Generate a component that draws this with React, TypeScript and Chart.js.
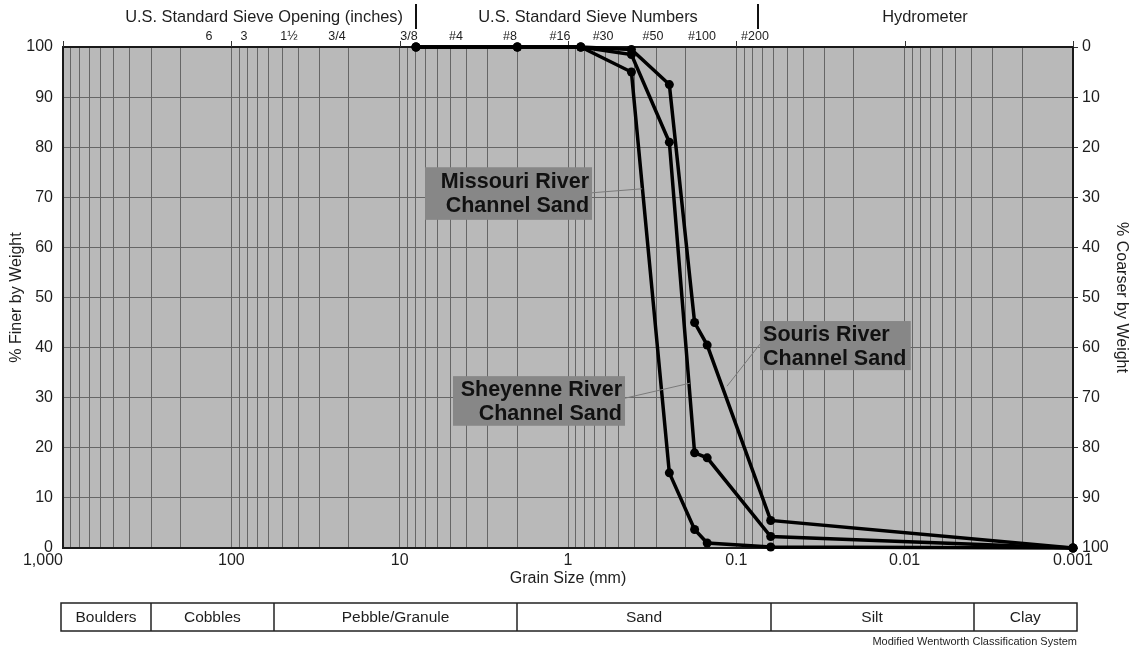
import React, { useEffect, useRef } from "react";
import { Chart, registerables } from "chart.js";
Chart.register(...registerables);

// ---- data ----
const grainSizes = [8, 2, 0.84, 0.42, 0.25, 0.177, 0.149, 0.0625, 0.001];
const sourisFiner = [100, 100, 100, 99.5, 92.5, 45, 40.5, 5.5, 0];
const sheyenneFiner = [100, 100, 100, 98.5, 81, 19, 18, 2.3, 0];
const missouriFiner = [100, 100, 100, 95, 15, 3.7, 1, 0.2, 0];

const decadeValues = [1000, 100, 10, 1, 0.1, 0.01, 0.001];
const decadeLabels = ["1,000", "100", "10", "1", "0.1", "0.01", "0.001"];

const sieveLabels = ["6", "3", "1½", "3/4", "3/8", "#4", "#8", "#16", "#30", "#50", "#100", "#200"];
const sieveSizes = [135.7, 84.1, 45.4, 23.6, 8.8, 4.63, 2.21, 1.116, 0.619, 0.3126, 0.16, 0.0775];

const headerTitles = ["U.S. Standard Sieve Opening (inches)", "U.S. Standard Sieve Numbers", "Hydrometer"];
const headerCenters = [63.9, 0.7605, 0.00757];
const headerSeparators = [8.0, 0.0743];

const classNames = ["Boulders", "Cobbles", "Pebble/Granule", "Sand", "Silt", "Clay"];
const classBoundaries = [300, 56, 2, 0.0625, 0.0039];

const labelNames = [
  ["Missouri River", "Channel Sand"],
  ["Sheyenne River", "Channel Sand"],
  ["Souris River", "Channel Sand"],
];
const labelBoxX = [[7.07, 0.72], [4.82, 0.4585], [0.0723, 0.0092]];
const labelBoxY = [[76.0, 65.5], [34.3, 24.4], [45.3, 35.5]];
const labelAlign = ["right", "right", "left"];
const leaderFrom = [[0.72, 70.9], [0.4585, 29.9], [0.0723, 40.7]];
const leaderTo = [[0.363, 71.7], [0.1884, 32.9], [0.1136, 32.3]];

const FONT = "'Liberation Sans', Arial, Helvetica, sans-serif";
const TEXT = "#1e1e1e";

function buildLogTicks() {
  const out: { value: number }[] = [];
  for (let k = -3; k <= 2; k++) {
    for (let m = 1; m <= 9; m++) out.push({ value: m * Math.pow(10, k) });
  }
  out.push({ value: 1000 });
  return out;
}

const decorPlugin = {
  id: "decor",
  beforeDraw(chart: any) {
    const { ctx, chartArea: a } = chart;
    ctx.save();
    ctx.fillStyle = "#ffffff";
    ctx.fillRect(0, 0, chart.width, chart.height);
    ctx.fillStyle = "#b9b9b9";
    ctx.fillRect(a.left, a.top, a.right - a.left, a.bottom - a.top);
    ctx.restore();
  },
  beforeDatasetsDraw(chart: any) {
    const { ctx, chartArea: a, scales } = chart;
    const x = scales.x;
    ctx.save();
    ctx.strokeStyle = "#1a1a1a";
    ctx.lineWidth = 2;
    ctx.strokeRect(a.left, a.top, a.right - a.left, a.bottom - a.top);
    ctx.lineWidth = 1;
    ctx.strokeStyle = "#333";
    decadeValues.forEach((v) => {
      const px = Math.round(x.getPixelForValue(v)) + 0.5;
      ctx.beginPath();
      ctx.moveTo(px, a.top - 6);
      ctx.lineTo(px, a.top);
      ctx.stroke();
    });
    ctx.restore();
  },
  afterDatasetsDraw(chart: any) {
    const { ctx, chartArea: a, scales } = chart;
    const x = scales.x;
    const y = scales.y;
    ctx.save();
    ctx.fillStyle = TEXT;
    ctx.textBaseline = "middle";

    // x tick labels
    ctx.font = `16px ${FONT}`;
    decadeValues.forEach((v, i) => {
      const px = x.getPixelForValue(v);
      ctx.textAlign = i === 0 ? "right" : "center";
      ctx.fillText(decadeLabels[i], px, a.bottom + 13);
    });
    ctx.textAlign = "center";
    ctx.fillText("Grain Size (mm)", (a.left + a.right) / 2, a.bottom + 31);

    // y titles
    const midY = (a.top + a.bottom) / 2;
    ctx.save();
    ctx.translate(17, midY);
    ctx.rotate(-Math.PI / 2);
    ctx.fillText("% Finer by Weight", 0, 0);
    ctx.restore();
    ctx.save();
    ctx.translate(1121, midY);
    ctx.rotate(Math.PI / 2);
    ctx.fillText("% Coarser by Weight", 0, 0);
    ctx.restore();

    // header
    ctx.font = `16.4px ${FONT}`;
    headerTitles.forEach((t, i) => {
      ctx.fillText(t, x.getPixelForValue(headerCenters[i]), 17);
    });
    ctx.strokeStyle = "#111";
    ctx.lineWidth = 2;
    headerSeparators.forEach((v) => {
      const px = Math.round(x.getPixelForValue(v));
      ctx.beginPath();
      ctx.moveTo(px, 4);
      ctx.lineTo(px, 29);
      ctx.stroke();
    });
    ctx.font = `12.5px ${FONT}`;
    sieveLabels.forEach((t, i) => {
      ctx.fillText(t, x.getPixelForValue(sieveSizes[i]), 37);
    });

    // classification bar
    const top = 603;
    const bot = 631;
    const left = a.left - 2;
    const right = a.right + 4;
    const edges = [left, ...classBoundaries.map((v) => x.getPixelForValue(v)), right];
    ctx.strokeStyle = "#222";
    ctx.lineWidth = 1.5;
    ctx.strokeRect(left, top, right - left, bot - top);
    ctx.font = `15.5px ${FONT}`;
    classNames.forEach((n, i) => {
      if (i > 0) {
        const px = Math.round(edges[i]);
        ctx.beginPath();
        ctx.moveTo(px, top);
        ctx.lineTo(px, bot);
        ctx.stroke();
      }
      ctx.fillText(n, (edges[i] + edges[i + 1]) / 2, (top + bot) / 2 + 1);
    });
    ctx.font = `11px ${FONT}`;
    ctx.textAlign = "right";
    ctx.fillText("Modified Wentworth Classification System", right, 642);

    // annotation boxes
    labelNames.forEach((lines, i) => {
      const x0 = x.getPixelForValue(labelBoxX[i][0]);
      const x1 = x.getPixelForValue(labelBoxX[i][1]);
      const y0 = y.getPixelForValue(labelBoxY[i][0]);
      const y1 = y.getPixelForValue(labelBoxY[i][1]);
      ctx.strokeStyle = "#7a7a7a";
      ctx.lineWidth = 1;
      ctx.beginPath();
      ctx.moveTo(x.getPixelForValue(leaderFrom[i][0]), y.getPixelForValue(leaderFrom[i][1]));
      ctx.lineTo(x.getPixelForValue(leaderTo[i][0]), y.getPixelForValue(leaderTo[i][1]));
      ctx.stroke();
      ctx.fillStyle = "#878787";
      ctx.fillRect(x0, y0, x1 - x0, y1 - y0);
      ctx.fillStyle = "#111";
      ctx.font = `bold 21.5px ${FONT}`;
      const cy = (y0 + y1) / 2 + 1;
      if (labelAlign[i] === "right") {
        ctx.textAlign = "right";
        ctx.fillText(lines[0], x1 - 3, cy - 12);
        ctx.fillText(lines[1], x1 - 3, cy + 12);
      } else {
        ctx.textAlign = "left";
        ctx.fillText(lines[0], x0 + 3, cy - 12);
        ctx.fillText(lines[1], x0 + 3, cy + 12);
      }
    });
    ctx.restore();
  },
};

function series(values: number[]) {
  return grainSizes.map((g, i) => ({ x: g, y: values[i] }));
}

export default function App() {
  const ref = useRef<HTMLCanvasElement | null>(null);
  useEffect(() => {
    if (!ref.current) return;
    const common = {
      borderColor: "#000",
      backgroundColor: "#000",
      pointBackgroundColor: "#000",
      pointBorderColor: "#000",
      borderWidth: 3.5,
      pointRadius: 4.5,
      pointBorderWidth: 0,
      tension: 0,
      clip: false as any,
      xAxisID: "x",
      yAxisID: "y",
    };
    const chart = new Chart(ref.current, {
      type: "line",
      data: {
        datasets: [
          { label: "Souris River Channel Sand", data: series(sourisFiner), ...common },
          { label: "Sheyenne River Channel Sand", data: series(sheyenneFiner), ...common },
          { label: "Missouri River Channel Sand", data: series(missouriFiner), ...common },
        ],
      },
      options: {
        responsive: false,
        animation: false,
        devicePixelRatio: 1,
        layout: { padding: { top: 47, left: 0, right: 0, bottom: 0 } },
        plugins: { legend: { display: false }, tooltip: { enabled: false } },
        scales: {
          x: {
            type: "logarithmic",
            position: "bottom",
            reverse: true,
            min: 0.001,
            max: 1000,
            afterBuildTicks: (s: any) => {
              s.ticks = buildLogTicks();
            },
            afterFit: (s: any) => {
              s.height = 101;
            },
            ticks: { display: false },
            grid: { color: "#666", lineWidth: 1, drawTicks: false },
            border: { display: false },
          },
          y: {
            position: "left",
            min: 0,
            max: 100,
            afterFit: (s: any) => {
              s.width = 63;
            },
            ticks: {
              stepSize: 10,
              padding: 10,
              color: TEXT,
              font: { family: FONT, size: 16 },
            },
            grid: { color: "#666", lineWidth: 1, drawTicks: false },
            border: { display: false },
          },
          y2: {
            position: "right",
            min: 0,
            max: 100,
            reverse: true,
            afterFit: (s: any) => {
              s.width = 61;
            },
            ticks: {
              stepSize: 10,
              padding: 4,
              color: TEXT,
              font: { family: FONT, size: 16 },
            },
            grid: { drawOnChartArea: false, drawTicks: true, tickLength: 5, color: "#333" },
            border: { display: false },
          },
        },
      },
      plugins: [decorPlugin],
    } as any);
    return () => chart.destroy();
  }, []);
  return (
    <div style={{ position: "fixed", left: 0, top: 0, width: 1134, height: 649, background: "#fff" }}>
      <canvas ref={ref} width={1134} height={649} style={{ display: "block" }} />
    </div>
  );
}
